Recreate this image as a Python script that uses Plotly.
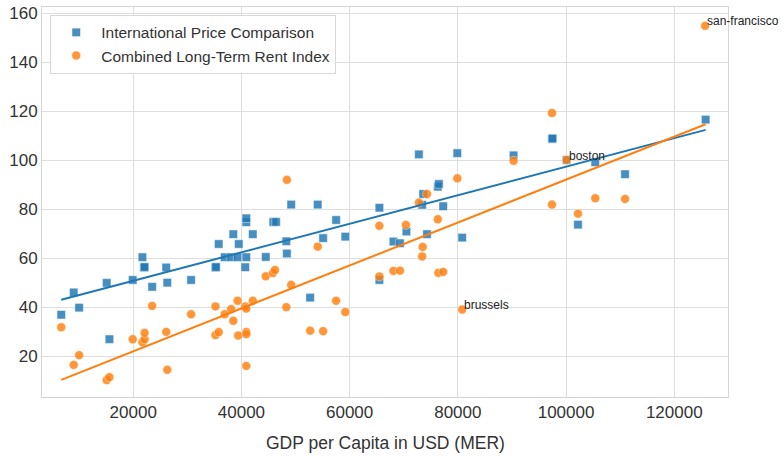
import plotly.graph_objects as go

# International Price Comparison (blue squares)
ipc_gdp = [6.7, 9.0, 10.0, 15.1, 15.6, 19.9, 21.7, 22.0, 22.1, 23.5, 26.1, 26.3, 30.7,
           35.2, 35.3, 35.8, 36.9, 38.1, 38.5, 39.3, 39.5, 40.7, 40.9, 40.9, 40.9, 42.1,
           44.5, 45.9, 46.4, 48.3, 48.4, 49.2, 52.7, 54.1, 55.1, 57.5, 59.2, 65.5, 65.5,
           68.1, 69.3, 70.5, 72.8, 73.4, 73.6, 74.3, 76.3, 76.5, 77.3, 79.9, 80.8, 90.3,
           97.4, 97.5, 100.1, 102.2, 105.4, 110.9, 125.8]
ipc_val = [36.9, 46.0, 39.8, 49.9, 26.9, 51.1, 60.4, 56.2, 56.4, 48.3, 56.2, 50.0, 51.1,
           56.2, 56.4, 65.8, 60.4, 60.4, 69.8, 60.4, 65.8, 56.3, 60.4, 74.7, 76.3, 69.8,
           60.5, 74.8, 74.8, 66.9, 61.9, 81.9, 43.9, 81.9, 68.2, 75.6, 68.8, 80.6, 51.1,
           66.8, 66.1, 70.9, 102.4, 81.8, 86.2, 69.8, 89.2, 90.3, 81.2, 102.9, 68.4, 102.0,
           108.7, 108.9, 100.1, 73.7, 99.2, 94.3, 116.6]

# Combined Long-Term Rent Index (orange circles)
rent_gdp = [6.7, 9.0, 10.0, 15.1, 15.6, 19.9, 21.7, 22.1, 22.1, 23.5, 26.1, 26.3, 30.7,
            35.2, 35.2, 35.8, 36.9, 38.1, 38.5, 39.3, 39.4, 40.7, 40.9, 40.9, 40.9, 40.9,
            42.1, 44.5, 45.8, 46.2, 48.3, 48.4, 49.2, 52.7, 54.1, 55.1, 57.5, 59.2, 65.5,
            65.5, 68.1, 69.3, 70.4, 72.8, 73.4, 73.5, 74.3, 76.3, 76.4, 77.3, 79.9, 80.8,
            90.3, 97.4, 97.4, 100.1, 102.2, 105.4, 110.9, 125.7]
rent_val = [31.8, 16.4, 20.4, 10.2, 11.4, 26.9, 25.7, 26.9, 29.5, 40.5, 29.9, 14.4, 37.1,
            40.3, 28.6, 29.8, 37.1, 39.2, 34.4, 42.6, 28.4, 40.3, 39.4, 29.9, 29.0, 16.0,
            42.6, 52.6, 53.9, 55.2, 40.0, 92.0, 49.1, 30.4, 64.7, 30.2, 42.6, 38.0, 73.2,
            52.5, 54.8, 54.9, 73.6, 82.7, 60.7, 64.6, 86.2, 75.9, 54.0, 54.4, 92.6, 39.0,
            99.8, 119.3, 81.9, 100.1, 78.2, 84.5, 84.2, 154.9]

# Fitted trend lines (endpoints)
fit_gdp = [6.7, 125.8]
ipc_fit = [43.0, 112.4]
rent_fit = [10.3, 114.7]

# Labelled cities
label_names = ["san-francisco", "boston", "brussels"]
label_gdp = [125.7, 100.1, 80.8]
label_val = [154.9, 100.1, 39.0]

x_ticks = [20000, 40000, 60000, 80000, 100000, 120000]
y_ticks = [20, 40, 60, 80, 100, 120, 140, 160]
x_title = "GDP per Capita in USD (MER)"

BLUE = "#1f77b4"
ORANGE = "#ff7f0e"
k = 1000

fig = go.Figure()
fig.add_trace(go.Scatter(
    x=[v * k for v in ipc_gdp], y=ipc_val, mode="markers",
    name="International Price Comparison",
    marker=dict(symbol="square", size=8.5, color=BLUE, opacity=0.82,
                line=dict(color="white", width=0.5)),
))
fig.add_trace(go.Scatter(
    x=[v * k for v in rent_gdp], y=rent_val, mode="markers",
    name="Combined Long-Term Rent Index",
    marker=dict(symbol="circle", size=9, color=ORANGE, opacity=0.82,
                line=dict(color="white", width=0.5)),
))
fig.add_trace(go.Scatter(
    x=[v * k for v in fit_gdp], y=ipc_fit, mode="lines", showlegend=False,
    line=dict(color=BLUE, width=2),
))
fig.add_trace(go.Scatter(
    x=[v * k for v in fit_gdp], y=rent_fit, mode="lines", showlegend=False,
    line=dict(color=ORANGE, width=2),
))

for name, gx, gy in zip(label_names, label_gdp, label_val):
    fig.add_annotation(x=gx * k, y=gy, text=name, showarrow=False,
                       xanchor="left", yanchor="middle", yshift=4.5,
                       font=dict(family="Liberation Sans, Arial", size=12, color="#222222"))

# x-axis title placed below the tick labels, kept fully inside the page
fig.add_annotation(x=0.5, y=-0.118, xref="paper", yref="paper", text=x_title,
                   showarrow=False, xanchor="center", yanchor="middle",
                   font=dict(family="Liberation Sans, Arial", size=17.5, color="#333333"))

axis_common = dict(showgrid=True, gridcolor="#dedede", gridwidth=1,
                   showline=True, linecolor="#d4d4d4", linewidth=1, mirror=True,
                   ticks="", zeroline=False,
                   tickfont=dict(family="Liberation Sans, Arial", size=17, color="#333333"))

fig.update_layout(
    width=784, height=456,
    margin=dict(l=42, r=56, t=7, b=59),
    paper_bgcolor="white", plot_bgcolor="white",
    font=dict(family="Liberation Sans, Arial", color="#333333"),
    xaxis=dict(range=[3140, 129930], tickvals=x_ticks, ticktext=[str(t) for t in x_ticks],
               automargin=False, **axis_common),
    yaxis=dict(range=[3.3, 162.6], tickvals=y_ticks, automargin=False, **axis_common),
    legend=dict(x=0.012, y=0.98, xanchor="left", yanchor="top",
                bgcolor="white", bordercolor="#d8d8d8", borderwidth=1,
                font=dict(family="Liberation Sans, Arial", size=15.5, color="#333333"),
                itemwidth=40, tracegroupgap=0),
)

fig.write_html("out.html")
